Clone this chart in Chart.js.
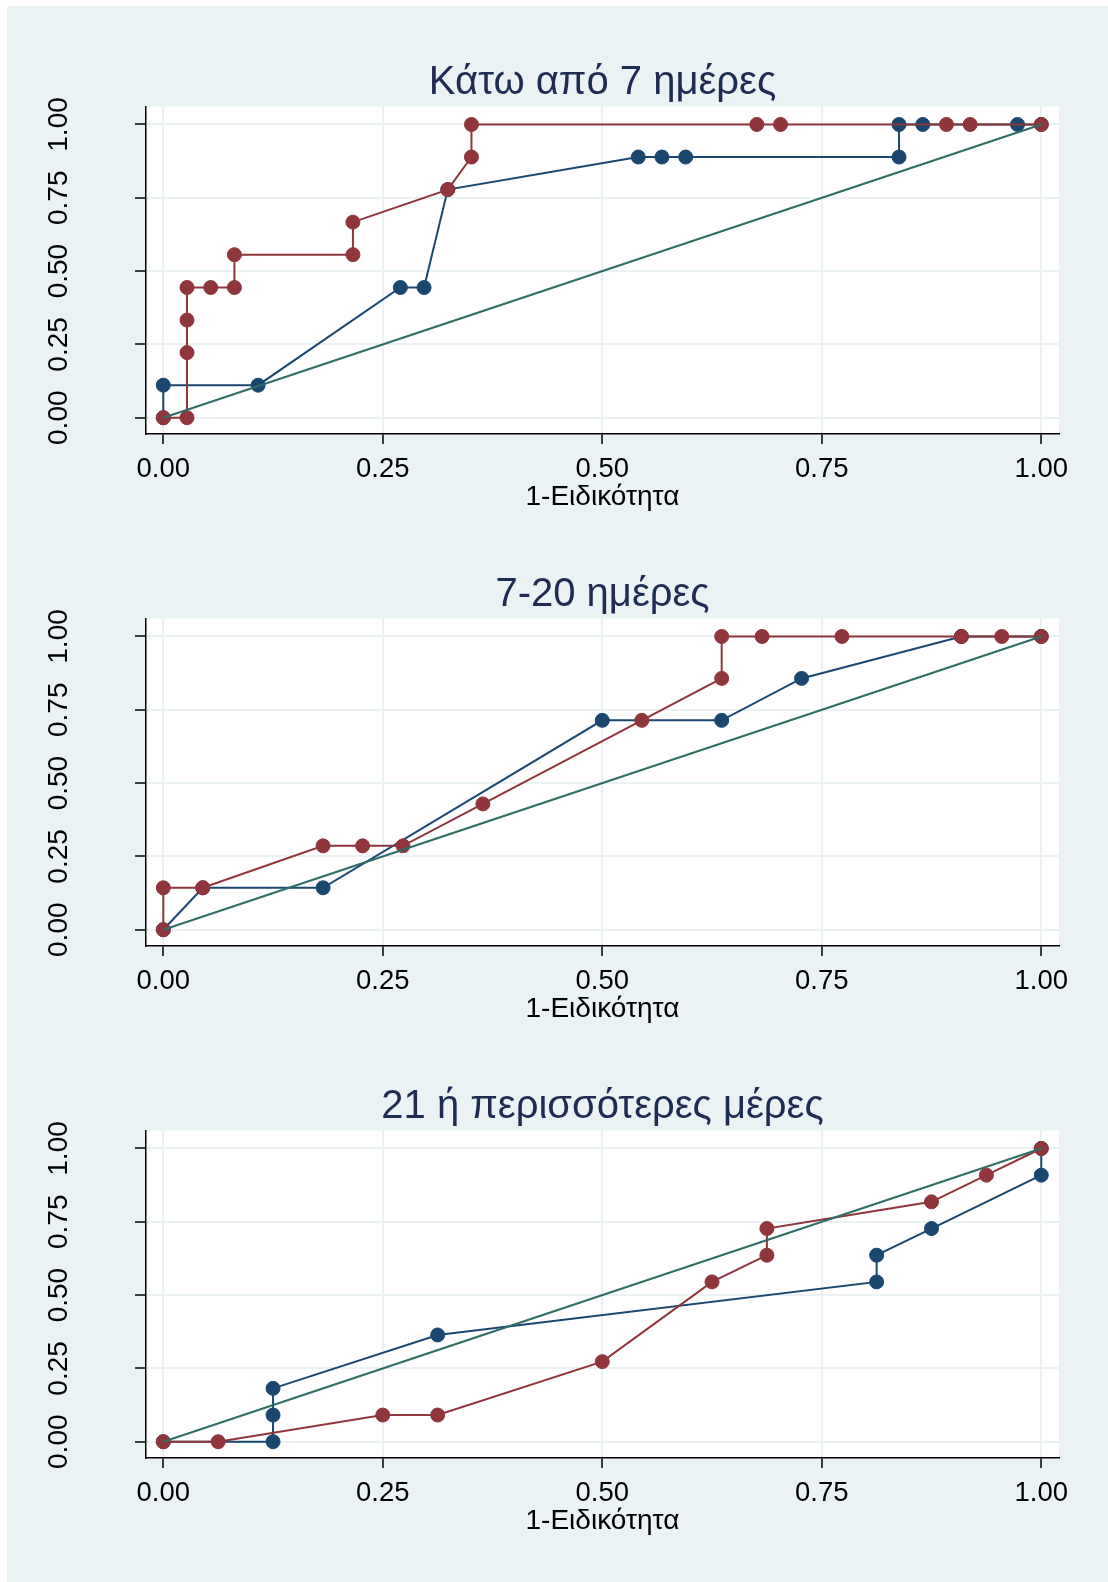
<!DOCTYPE html>
<html>
<head>
<meta charset="utf-8">
<script src="https://cdn.jsdelivr.net/npm/chart.js@4.4.0/dist/chart.umd.min.js"></script>
<style>
  html, body { margin: 0; padding: 0; background: #fff; }
  #bg { position: absolute; left: 7px; top: 6px; width: 1101px; height: 1576px; background: #eaf2f3; }
  canvas { position: absolute; left: 0; }
</style>
</head>
<body>
<div id="bg"></div>
<canvas id="c1" width="1108" height="512" style="top:40px"></canvas>
<canvas id="c2" width="1108" height="512" style="top:552px"></canvas>
<canvas id="c3" width="1108" height="512" style="top:1064px"></canvas>
<script>
const titles = ['Κάτω από 7 ημέρες', '7-20 ημέρες', '21 ή περισσότερες μέρες'];
const xTitle = '1-Ειδικότητα';
const tickValues = [0, 0.25, 0.5, 0.75, 1];

// κάτω από 7 ημέρες
const p1BlueX = [0, 0, 0.108, 0.270, 0.297, 0.324, 0.541, 0.568, 0.595, 0.838, 0.838, 0.865, 0.973, 1];
const p1BlueY = [0, 0.111, 0.111, 0.444, 0.444, 0.778, 0.889, 0.889, 0.889, 0.889, 1, 1, 1, 1];
const p1RedX = [0, 0.027, 0.027, 0.027, 0.027, 0.054, 0.081, 0.081, 0.216, 0.216, 0.324, 0.351, 0.351, 0.676, 0.703, 0.892, 0.919, 1];
const p1RedY = [0, 0, 0.222, 0.333, 0.444, 0.444, 0.444, 0.556, 0.556, 0.667, 0.778, 0.889, 1, 1, 1, 1, 1, 1];

// 7-20 ημέρες
const p2BlueX = [0, 0.045, 0.182, 0.5, 0.636, 0.727, 0.909, 1];
const p2BlueY = [0, 0.143, 0.143, 0.714, 0.714, 0.857, 1, 1];
const p2RedX = [0, 0, 0.045, 0.182, 0.227, 0.273, 0.364, 0.545, 0.636, 0.636, 0.682, 0.773, 0.909, 0.955, 1];
const p2RedY = [0, 0.143, 0.143, 0.286, 0.286, 0.286, 0.429, 0.714, 0.857, 1, 1, 1, 1, 1, 1];

// 21 ή περισσότερες μέρες
const p3BlueX = [0, 0.125, 0.125, 0.125, 0.3125, 0.8125, 0.8125, 0.875, 1, 1];
const p3BlueY = [0, 0, 0.091, 0.182, 0.364, 0.545, 0.636, 0.727, 0.909, 1];
const p3RedX = [0, 0.0625, 0.25, 0.3125, 0.5, 0.625, 0.6875, 0.6875, 0.875, 0.9375, 1];
const p3RedY = [0, 0, 0.091, 0.091, 0.273, 0.545, 0.636, 0.727, 0.818, 0.909, 1];

// διαγώνιος αναφοράς
const refX = [0, 1];
const refY = [0, 1];

const NAVY = '#1a476f', MAROON = '#90353b', GREEN = '#2d6d66';
const FONT = "'Liberation Sans', Arial, sans-serif";

const toPoints = (xs, ys) => xs.map((x, i) => ({ x: x, y: ys[i] }));

const plotBg = {
  id: 'plotBg',
  beforeDraw(chart) {
    const { ctx, chartArea: a } = chart;
    ctx.save();
    ctx.fillStyle = '#fff';
    ctx.fillRect(a.left, a.top, a.right - a.left, a.bottom - a.top);
    ctx.restore();
  }
};

function setTicks(scale) {
  scale.ticks = tickValues.map(v => ({ value: v }));
}

function makeChart(id, title, blueX, blueY, redX, redY) {
  const ctx = document.getElementById(id).getContext('2d');
  return new Chart(ctx, {
    type: 'scatter',
    data: {
      datasets: [
        { data: toPoints(refX, refY), showLine: true, borderColor: GREEN, borderWidth: 2, pointRadius: 0 },
        { data: toPoints(redX, redY), showLine: true, borderColor: MAROON, backgroundColor: MAROON, borderWidth: 2,
          pointRadius: 7, pointBorderWidth: 1 },
        { data: toPoints(blueX, blueY), showLine: true, borderColor: NAVY, backgroundColor: NAVY, borderWidth: 2,
          pointRadius: 7, pointBorderWidth: 1 }
      ]
    },
    options: {
      responsive: false,
      animation: false,
      layout: { padding: { left: 0, right: 49, top: 0, bottom: 37.6 } },
      plugins: {
        legend: { display: false },
        tooltip: { enabled: false },
        title: {
          display: true,
          text: title,
          fullSize: false,
          color: '#1e2c53',
          font: { family: FONT, size: 40, weight: 'normal' },
          padding: { top: 18.5, bottom: 0 }
        }
      },
      scales: {
        x: {
          type: 'linear',
          min: -0.0197,
          max: 1.0202,
          afterBuildTicks: setTicks,
          afterFit: s => { s.height = 80.4; },
          ticks: {
            callback: v => v.toFixed(2),
            color: '#000',
            font: { family: FONT, size: 27.5 },
            padding: 9,
            maxRotation: 0,
            minRotation: 0
          },
          grid: { color: '#eaf2f3', lineWidth: 2, tickColor: '#000', tickLength: 10, tickWidth: 1.5 },
          border: { color: '#000', width: 1.5 },
          title: {
            display: true,
            text: xTitle,
            color: '#000',
            font: { family: FONT, size: 28 },
            padding: 0
          }
        },
        y: {
          type: 'linear',
          min: -0.0555,
          max: 1.0613,
          afterBuildTicks: setTicks,
          afterFit: s => { s.width = 146; },
          ticks: {
            callback: v => v.toFixed(2),
            color: '#000',
            font: { family: FONT, size: 28 },
            padding: 48,
            minRotation: 90,
            maxRotation: 90,
            crossAlign: 'center'
          },
          grid: { color: '#eaf2f3', lineWidth: 2, tickColor: '#000', tickLength: 11, tickWidth: 1.5 },
          border: { color: '#000', width: 1.5 }
        }
      }
    },
    plugins: [plotBg]
  });
}

makeChart('c1', titles[0], p1BlueX, p1BlueY, p1RedX, p1RedY);
makeChart('c2', titles[1], p2BlueX, p2BlueY, p2RedX, p2RedY);
makeChart('c3', titles[2], p3BlueX, p3BlueY, p3RedX, p3RedY);
</script>
</body>
</html>
